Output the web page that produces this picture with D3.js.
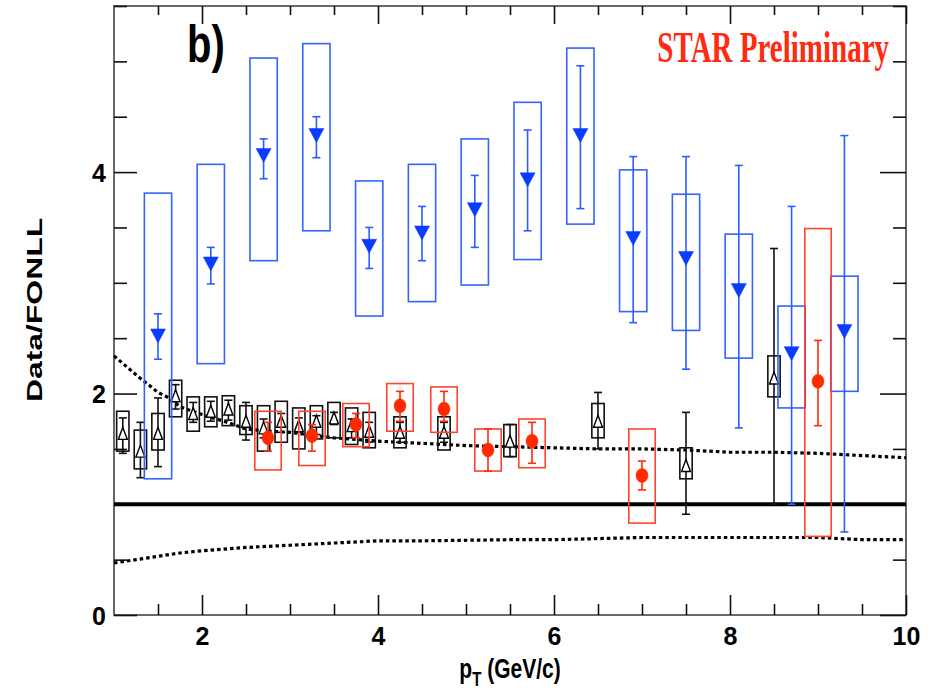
<!DOCTYPE html>
<html>
<head>
<meta charset="utf-8">
<script src="https://cdn.jsdelivr.net/npm/d3@7"></script>
<style>
  html, body { margin: 0; padding: 0; background: #fff; }
  svg { display: block; }
  text { font-family: "Liberation Sans", Arial, Helvetica, sans-serif; }
</style>
</head>
<body>
<svg id="chart" width="933" height="693"></svg>
<script>
// ---- Data/FONLL ratio vs pT ----
// Black open triangles
const blackX     = [1.1, 1.3, 1.5, 1.7, 1.9, 2.1, 2.3, 2.5, 2.7, 2.9, 3.1, 3.3, 3.5, 3.7, 3.9, 4.25, 4.75, 5.5, 6.5, 7.5, 8.5];
const blackY     = [1.64, 1.48, 1.64, 1.98, 1.82, 1.84, 1.86, 1.75, 1.69, 1.75, 1.71, 1.75, 1.78, 1.71, 1.66, 1.65, 1.65, 1.57, 1.75, 1.35, 2.14];
const blackStatHi = [1.78, 1.74, 1.96, 2.08, 1.92, 1.93, 1.94, 1.92, 1.77, 1.82, 1.78, 1.80, 1.83, 1.77, 1.74, 1.74, 1.74, 1.72, 2.01, 1.83, 3.31];
const blackStatLo = [1.46, 1.24, 1.34, 1.86, 1.74, 1.75, 1.76, 1.58, 1.60, 1.65, 1.65, 1.63, 1.72, 1.60, 1.56, 1.56, 1.56, 1.43, 1.50, 0.91, 1.00];
const blackSysHi  = [1.84, 1.67, 1.82, 2.12, 1.97, 1.97, 1.98, 1.89, 1.89, 1.93, 1.87, 1.89, 1.92, 1.87, 1.83, 1.79, 1.79, 1.72, 1.91, 1.51, 2.34];
const blackSysLo  = [1.48, 1.32, 1.49, 1.79, 1.66, 1.70, 1.71, 1.63, 1.48, 1.56, 1.50, 1.59, 1.60, 1.54, 1.51, 1.51, 1.49, 1.43, 1.60, 1.23, 1.97];

// Blue filled down-triangles
const blueX      = [1.5, 2.1, 2.7, 3.3, 3.9, 4.5, 5.1, 5.7, 6.3, 6.9, 7.5, 8.1, 8.7, 9.3];
const blueY      = [2.52, 3.17, 4.15, 4.33, 3.33, 3.45, 3.66, 3.93, 4.33, 3.40, 3.22, 2.93, 2.36, 2.56];
const blueStatHi = [2.72, 3.32, 4.30, 4.50, 3.50, 3.69, 3.97, 4.38, 4.96, 4.14, 4.14, 4.06, 3.69, 4.33];
const blueStatLo = [2.31, 2.99, 3.94, 4.13, 3.13, 3.20, 3.32, 3.47, 3.67, 2.64, 2.22, 1.69, 1.00, 0.75];
const blueSysHi  = [3.81, 4.07, 5.03, 5.16, 3.92, 4.07, 4.30, 4.63, 5.12, 4.02, 3.80, 3.44, 2.79, 3.06];
const blueSysLo  = [1.23, 2.27, 3.20, 3.47, 2.70, 2.83, 2.98, 3.21, 3.53, 2.74, 2.57, 2.32, 1.87, 2.02];

// Red filled circles
const redX      = [2.75, 3.25, 3.75, 4.25, 4.75, 5.25, 5.75, 7.0, 9.0];
const redY      = [1.60, 1.62, 1.72, 1.89, 1.86, 1.49, 1.57, 1.26, 2.11];
const redStatHi = [1.74, 1.72, 1.82, 2.02, 2.02, 1.68, 1.74, 1.39, 2.48];
const redStatLo = [1.48, 1.48, 1.60, 1.75, 1.75, 1.30, 1.37, 1.13, 1.71];
const redSysHi  = [1.84, 1.84, 1.91, 2.09, 2.06, 1.68, 1.77, 1.68, 3.49];
const redSysLo  = [1.31, 1.35, 1.52, 1.66, 1.65, 1.30, 1.33, 0.83, 0.71];

// FONLL uncertainty band edges (upper / lower)
const fonllUpperX = [1.0, 1.25, 1.5, 1.65, 1.75, 2.0, 2.25, 2.5, 2.75, 3.0, 3.5, 4.0, 4.5, 5.0, 5.5, 6.0, 6.5, 7.0, 7.5, 8.0, 8.5, 9.0, 9.5, 10.0];
const fonllUpperY = [2.34, 2.17, 2.01, 1.95, 1.88, 1.81, 1.75, 1.68, 1.66, 1.65, 1.60, 1.57, 1.55, 1.53, 1.52, 1.51, 1.50, 1.50, 1.49, 1.47, 1.47, 1.46, 1.44, 1.42];
const fonllLowerX = [1.0, 1.25, 1.5, 1.75, 2.0, 2.5, 3.0, 3.5, 4.0, 4.5, 5.0, 5.5, 6.0, 6.5, 7.0, 8.0, 9.0, 9.5, 10.0];
const fonllLowerY = [0.47, 0.50, 0.53, 0.56, 0.58, 0.61, 0.63, 0.65, 0.67, 0.67, 0.675, 0.68, 0.68, 0.69, 0.70, 0.70, 0.70, 0.68, 0.68];

// Axis ticks
const xMajorTicks = [2, 4, 6, 8, 10];
const yMajorTicks = [0, 2, 4];
const unityLevel = 1;

// ---- drawing ----
const svg = d3.select("#chart");
const padL = 114, padR = 906, padT = 6, padB = 615;
const x = d3.scaleLinear().domain([1, 10]).range([padL, padR]);
const y = d3.scaleLinear().domain([0, 5.5]).range([padB, padT]);

const xMinor = d3.range(1.5, 10.01, 0.5).filter(v => !xMajorTicks.includes(v));
const yMinor = d3.range(0.5, 5.51, 0.5).filter(v => !yMajorTicks.includes(v));

const axisColor = "#111";

// frame
svg.append("rect")
  .attr("x", padL).attr("y", padT)
  .attr("width", padR - padL).attr("height", padB - padT)
  .attr("fill", "none").attr("stroke", "#444").attr("stroke-width", 1.6);

function styleAxis(g) {
  g.select(".domain").remove();
  g.selectAll(".tick line").attr("stroke", axisColor).attr("stroke-width", 1.6);
}

// left axis
svg.append("g").attr("transform", `translate(${padL},0)`)
  .call(d3.axisLeft(y).tickValues(yMajorTicks).tickSizeInner(-23).tickSizeOuter(0).tickPadding(8).tickFormat(d3.format("d")))
  .call(styleAxis)
  .call(g => g.selectAll(".tick text")
    .attr("fill", "#000").attr("font-size", 25).attr("font-weight", "bold").attr("dy", "0.36em"));
svg.append("g").attr("transform", `translate(${padL},0)`)
  .call(d3.axisLeft(y).tickValues(yMinor).tickSizeInner(-13).tickSizeOuter(0).tickFormat(""))
  .call(styleAxis);

// right axis
svg.append("g").attr("transform", `translate(${padR},0)`)
  .call(d3.axisRight(y).tickValues(yMajorTicks).tickSizeInner(-26).tickSizeOuter(0).tickFormat(""))
  .call(styleAxis);
svg.append("g").attr("transform", `translate(${padR},0)`)
  .call(d3.axisRight(y).tickValues(yMinor).tickSizeInner(-13).tickSizeOuter(0).tickFormat(""))
  .call(styleAxis);

// bottom axis
svg.append("g").attr("transform", `translate(0,${padB})`)
  .call(d3.axisBottom(x).tickValues(xMajorTicks).tickSizeInner(-20).tickSizeOuter(0).tickPadding(12).tickFormat(d3.format("d")))
  .call(styleAxis)
  .call(g => g.selectAll(".tick text")
    .attr("fill", "#000").attr("font-size", 25).attr("font-weight", "bold"));
svg.append("g").attr("transform", `translate(0,${padB})`)
  .call(d3.axisBottom(x).tickValues(xMinor).tickSizeInner(-11).tickSizeOuter(0).tickFormat(""))
  .call(styleAxis);

// top axis
svg.append("g").attr("transform", `translate(0,${padT})`)
  .call(d3.axisTop(x).tickValues(xMajorTicks).tickSizeInner(-18).tickSizeOuter(0).tickFormat(""))
  .call(styleAxis);
svg.append("g").attr("transform", `translate(0,${padT})`)
  .call(d3.axisTop(x).tickValues(xMinor).tickSizeInner(-9).tickSizeOuter(0).tickFormat(""))
  .call(styleAxis);

// FONLL band edges (dotted)
const curve = d3.line().x(d => x(d[0])).y(d => y(d[1]));
[[fonllUpperX, fonllUpperY], [fonllLowerX, fonllLowerY]].forEach(([xs, ys]) => {
  svg.append("path")
    .attr("d", curve(xs.map((v, i) => [v, ys[i]])))
    .attr("fill", "none").attr("stroke", "#000")
    .attr("stroke-width", 3.2).attr("stroke-dasharray", "3.5,3");
});

// unity line
svg.append("line")
  .attr("x1", x(1)).attr("x2", x(10))
  .attr("y1", y(unityLevel)).attr("y2", y(unityLevel))
  .attr("stroke", "#000").attr("stroke-width", 4);

// generic series drawer
function drawSeries(opts) {
  const g = svg.append("g");
  const n = opts.xs.length;
  const rows = d3.range(n).map(i => ({
    x: opts.xs[i], y: opts.ys[i],
    sh: opts.sysHi[i], sl: opts.sysLo[i],
    eh: opts.statHi[i], el: opts.statLo[i]
  }));
  // systematic boxes
  g.selectAll("rect.sys").data(rows).join("rect")
    .attr("x", d => x(d.x - opts.boxHalf))
    .attr("width", d => x(d.x + opts.boxHalf) - x(d.x - opts.boxHalf))
    .attr("y", d => y(d.sh))
    .attr("height", d => y(d.sl) - y(d.sh))
    .attr("fill", "none").attr("stroke", opts.boxColor).attr("stroke-width", opts.boxWidth);
  // statistical error bars
  g.selectAll("line.err").data(rows).join("line")
    .attr("x1", d => x(d.x)).attr("x2", d => x(d.x))
    .attr("y1", d => y(d.eh)).attr("y2", d => y(d.el))
    .attr("stroke", opts.errColor).attr("stroke-width", 1.6);
  const cap = 4;
  ["eh", "el"].forEach(k => {
    g.selectAll("line.cap-" + k).data(rows).join("line")
      .attr("x1", d => x(d.x) - cap).attr("x2", d => x(d.x) + cap)
      .attr("y1", d => y(d[k])).attr("y2", d => y(d[k]))
      .attr("stroke", opts.errColor).attr("stroke-width", 1.6);
  });
  // markers
  g.selectAll("path.marker").data(rows).join("path")
    .attr("transform", d => `translate(${x(d.x)},${y(d.y)})`)
    .attr("d", opts.marker)
    .attr("fill", opts.markerFill).attr("stroke", opts.markerStroke).attr("stroke-width", opts.markerStrokeWidth);
}

// marker shapes
const upTriangle = (w, h) => `M0,${-h / 2}L${w / 2},${h / 2}L${-w / 2},${h / 2}Z`;
const downTriangle = (w, h) => `M0,${h / 2}L${w / 2},${-h / 2}L${-w / 2},${-h / 2}Z`;
const ellipse = (rx, ry) => `M${-rx},0A${rx},${ry} 0 1,0 ${rx},0A${rx},${ry} 0 1,0 ${-rx},0Z`;

drawSeries({
  xs: blackX, ys: blackY, statHi: blackStatHi, statLo: blackStatLo, sysHi: blackSysHi, sysLo: blackSysLo,
  boxHalf: 0.07, boxColor: "#111", boxWidth: 1.6, errColor: "#111",
  marker: upTriangle(9, 12), markerFill: "#fff", markerStroke: "#000", markerStrokeWidth: 1.4
});

drawSeries({
  xs: blueX, ys: blueY, statHi: blueStatHi, statLo: blueStatLo, sysHi: blueSysHi, sysLo: blueSysLo,
  boxHalf: 0.155, boxColor: "#3563ff", boxWidth: 1.6, errColor: "#2a5cff",
  marker: downTriangle(15, 14), markerFill: "#0a3cff", markerStroke: "#0a3cff", markerStrokeWidth: 0.5
});

drawSeries({
  xs: redX, ys: redY, statHi: redStatHi, statLo: redStatLo, sysHi: redSysHi, sysLo: redSysLo,
  boxHalf: 0.15, boxColor: "#ff4430", boxWidth: 1.6, errColor: "#ff2a10",
  marker: ellipse(6, 7), markerFill: "#ff2a00", markerStroke: "#ff2a00", markerStrokeWidth: 0.5
});

// panel label
svg.append("text")
  .attr("transform", "translate(187,62) scale(1,1.3)")
  .attr("font-size", 40).attr("font-weight", "bold").attr("fill", "#000")
  .text("b)");

svg.append("text")
  .attr("transform", "translate(889,62) scale(1,1.5)")
  .attr("text-anchor", "end")
  .style("font-family", "'Liberation Serif', 'Times New Roman', serif")
  .attr("font-size", 29).attr("font-weight", "bold").attr("fill", "#ff2a10")
  .text("STAR Preliminary");

// axis titles
svg.append("text")
  .attr("transform", "translate(42,310) rotate(-90) scale(1.45,1)")
  .attr("text-anchor", "middle")
  .attr("font-size", 22).attr("font-weight", "bold").attr("fill", "#000")
  .text("Data/FONLL");

const xt = svg.append("text")
  .attr("transform", "translate(510,678) scale(1,1.3)")
  .attr("text-anchor", "middle")
  .attr("font-size", 21).attr("font-weight", "bold").attr("fill", "#000");
xt.append("tspan").text("p");
xt.append("tspan").attr("font-size", 15).attr("dy", 6).text("T");
xt.append("tspan").attr("dy", -6).text(" (GeV/c)");
</script>
</body>
</html>
